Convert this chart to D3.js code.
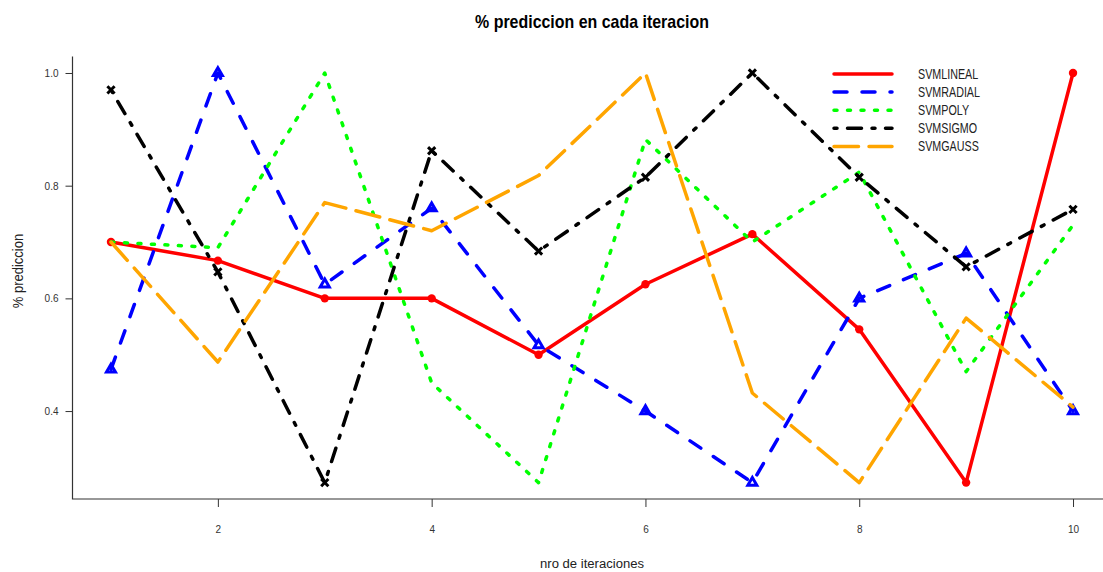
<!DOCTYPE html>
<html>
<head>
<meta charset="utf-8">
<script src="https://cdn.jsdelivr.net/npm/d3@7"></script>
<style>
  html, body { margin: 0; padding: 0; background: #ffffff; }
  svg { display: block; }
  text { font-family: "Liberation Sans", Arial, sans-serif; }
</style>
</head>
<body>
<div id="chart"></div>
<script>
// Iteration numbers (x axis)
const iteraciones = [1, 2, 3, 4, 5, 6, 7, 8, 9, 10];

// Prediction rate per iteration, one array per SVM kernel
const svmLineal = [0.70, 0.667, 0.60, 0.60, 0.50, 0.625, 0.714, 0.545, 0.273, 1.00];
const svmRadial = [0.474, 1.00, 0.625, 0.76, 0.517, 0.40, 0.273, 0.60, 0.68, 0.40];
const svmPoly   = [0.70, 0.69, 1.00, 0.45, 0.273, 0.882, 0.70, 0.824, 0.47, 0.73];
const svmSigmo  = [0.97, 0.647, 0.273, 0.862, 0.684, 0.815, 1.00, 0.815, 0.656, 0.758];
const svmGauss  = [0.70, 0.487, 0.77, 0.72, 0.818, 1.00, 0.432, 0.273, 0.565, 0.407];

// Axis tick values
const xTicks = [2, 4, 6, 8, 10];
const yTicks = [0.4, 0.6, 0.8, 1.0];

// Series names, in legend order
const seriesNames = ["SVMLINEAL", "SVMRADIAL", "SVMPOLY", "SVMSIGMO", "SVMGAUSS"];

const titleText = "% prediccion en cada iteracion";
const xTitle = "nro de iteraciones";
const yTitle = "% prediccion";

const W = 1103, H = 572;

// Line styles per series (colour, dash pattern, marker)
const styles = [
  { color: "#ff0000", dash: null,               marker: "circle" },
  { color: "#0000ff", dash: "13,15",            marker: "triangle" },
  { color: "#00ff00", dash: "3,10.5",           marker: null },
  { color: "#000000", dash: "3,10.5,14,10.5",   marker: "cross" },
  { color: "#ffa500", dash: "24.5,10.5",        marker: null }
];
const seriesValues = [svmLineal, svmRadial, svmPoly, svmSigmo, svmGauss];

const svg = d3.select("#chart").append("svg")
  .attr("width", W).attr("height", H)
  .style("background", "#fff");

// Plot region with 4% padding around the data range on both axes
const allVals = seriesValues.flat();
const yMin = d3.min(allVals), yMax = d3.max(allVals);
const yPad = (yMax - yMin) * 0.04;
const xMin = d3.min(iteraciones), xMax = d3.max(iteraciones);
const xPad = (xMax - xMin) * 0.04;

const plotLeft = 72.5, plotRight = 1111.5, plotTop = 56.6, plotBottom = 499;

const x = d3.scaleLinear().domain([xMin - xPad, xMax + xPad]).range([plotLeft, plotRight]);
const y = d3.scaleLinear().domain([yMin - yPad, yMax + yPad]).range([plotBottom, plotTop]);

const axisColor = "#333";

// L-shaped frame: left and bottom sides
svg.append("path")
  .attr("d", `M${plotLeft},${plotTop}V${plotBottom}H${plotRight}`)
  .attr("fill", "none").attr("stroke", axisColor).attr("stroke-width", 1.2);

// Helper for horizontally condensed text
function label(txt, px, py, opts) {
  return svg.append("text")
    .attr("transform", `translate(${px},${py}) ${opts.rotate ? "rotate(" + opts.rotate + ")" : ""} scale(${opts.sx || 1},1)`)
    .attr("text-anchor", opts.anchor || "middle")
    .attr("font-size", opts.size)
    .attr("font-weight", opts.bold ? "bold" : "normal")
    .attr("fill", opts.fill || "#000")
    .text(txt);
}

// Y axis
const yAxis = d3.axisLeft(y).tickValues(yTicks).tickSize(7).tickFormat(d3.format(".1f"));
const gy = svg.append("g").attr("transform", `translate(${plotLeft},0)`).call(yAxis);
gy.select(".domain").remove();
gy.selectAll(".tick line").attr("stroke", axisColor).attr("stroke-width", 1);
gy.selectAll(".tick text")
  .attr("font-family", "Liberation Sans, Arial, sans-serif")
  .attr("font-size", 10).attr("fill", "#333")
  .attr("x", -14).attr("dy", "0.35em");

// X axis
const xAxis = d3.axisBottom(x).tickValues(xTicks).tickSize(8).tickFormat(d3.format("d"));
const gx = svg.append("g").attr("transform", `translate(0,${plotBottom})`).call(xAxis);
gx.select(".domain").remove();
gx.selectAll(".tick line").attr("stroke", axisColor).attr("stroke-width", 1);
gx.selectAll(".tick text")
  .attr("font-family", "Liberation Sans, Arial, sans-serif")
  .attr("font-size", 10).attr("fill", "#333")
  .attr("y", 30).attr("dy", "0.35em");

// Series lines and markers
const line = d3.line().x((d, i) => x(iteraciones[i])).y(d => y(d));

seriesValues.forEach((vals, si) => {
  const st = styles[si];
  const g = svg.append("g");
  g.append("path")
    .attr("d", line(vals))
    .attr("fill", "none")
    .attr("stroke", st.color)
    .attr("stroke-width", 3.5)
    .attr("stroke-linecap", "round")
    .attr("stroke-linejoin", "round")
    .attr("stroke-dasharray", st.dash);

  vals.forEach((v, i) => {
    const cx = x(iteraciones[i]), cy = y(v);
    if (st.marker === "circle") {
      g.append("circle").attr("cx", cx).attr("cy", cy).attr("r", 4.2).attr("fill", st.color);
    } else if (st.marker === "triangle") {
      const r = 5.2, h = r * Math.sqrt(3) / 2;
      g.append("path")
        .attr("d", `M${cx},${cy - r}L${cx + h},${cy + r / 2}L${cx - h},${cy + r / 2}Z`)
        .attr("fill", "none").attr("stroke", st.color).attr("stroke-width", 3)
        .attr("stroke-linejoin", "miter");
    } else if (st.marker === "cross") {
      const s = 3.6;
      g.append("path")
        .attr("d", `M${cx - s},${cy - s}L${cx + s},${cy + s}M${cx - s},${cy + s}L${cx + s},${cy - s}`)
        .attr("stroke", st.color).attr("stroke-width", 3).attr("fill", "none");
    }
  });
});

// Titles
label(titleText, 592, 28, { size: 18, bold: true, sx: 0.886 });
label(xTitle, 592, 568, { size: 13.5, sx: 0.97, fill: "#222" });
label(yTitle, 23, 271, { size: 14, rotate: -90, sx: 0.93, fill: "#222" });

// Legend
const legX1 = 834, legX2 = 892, legY0 = 74, legStep = 18.1;
seriesNames.forEach((name, i) => {
  const st = styles[i];
  const ly = legY0 + i * legStep;
  svg.append("line")
    .attr("x1", legX1).attr("x2", legX2).attr("y1", ly).attr("y2", ly)
    .attr("stroke", st.color).attr("stroke-width", 3.5)
    .attr("stroke-linecap", "round")
    .attr("stroke-dasharray", st.dash);
  label(name, 918, ly + 5, { size: 14.5, sx: 0.74, anchor: "start", fill: "#222" });
});
</script>
</body>
</html>
